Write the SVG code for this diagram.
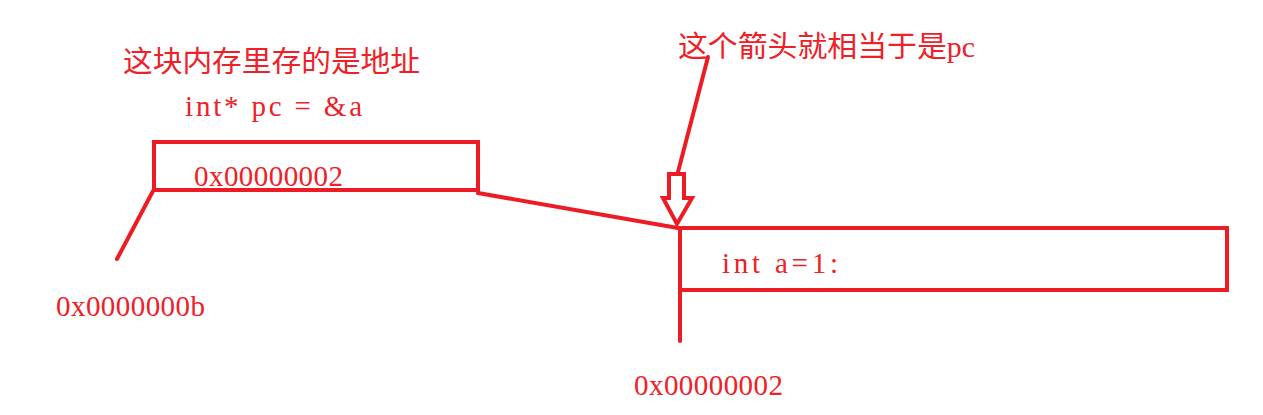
<svg xmlns="http://www.w3.org/2000/svg" width="1263" height="415" viewBox="0 0 1263 415">
<style>
.ln{stroke:#ed1c24;stroke-width:4;fill:none;stroke-linecap:round;stroke-linejoin:miter}
.tx{fill:#ee2028;font-family:"Liberation Serif","Noto Sans CJK SC",serif;font-size:29px}
</style>
<rect width="1263" height="415" fill="#ffffff"/>
<g id="label-title">
<text class="tx" x="123" y="72" textLength="297" lengthAdjust="spacingAndGlyphs">这块内存里存的是地址</text>
<text class="tx" x="185" y="116" textLength="177" lengthAdjust="spacing">int* pc = &amp;a</text>
</g>
<g id="node-pc">
<rect class="ln" x="154" y="142" width="324" height="48"/>
<text class="tx" x="194" y="186" textLength="149" lengthAdjust="spacing">0x00000002</text>
</g>
<g id="node-a">
<rect class="ln" x="680" y="228" width="547" height="62"/>
<text class="tx" x="722" y="273" textLength="116" lengthAdjust="spacing">int a=1:</text>
</g>
<g id="label-arrow">
<text class="tx" x="678" y="57" textLength="297" lengthAdjust="spacingAndGlyphs">这个箭头就相当于是pc</text>
</g>
<g id="label-addr-b">
<text class="tx" x="56" y="316" textLength="149" lengthAdjust="spacing">0x0000000b</text>
</g>
<g id="label-addr-2">
<text class="tx" x="634" y="395" textLength="149" lengthAdjust="spacing">0x00000002</text>
</g>
<g id="connectors">
<line class="ln" x1="153" y1="191" x2="117" y2="259"/>
<line class="ln" x1="478" y1="193" x2="678" y2="228"/>
<line class="ln" x1="680" y1="290" x2="680" y2="341"/>
<line class="ln" x1="708" y1="57" x2="678" y2="172"/>
<polygon class="ln" points="669,174 684,174 684,198 692,198 677,224 663,198 669,198"/>
</g>
</svg>
